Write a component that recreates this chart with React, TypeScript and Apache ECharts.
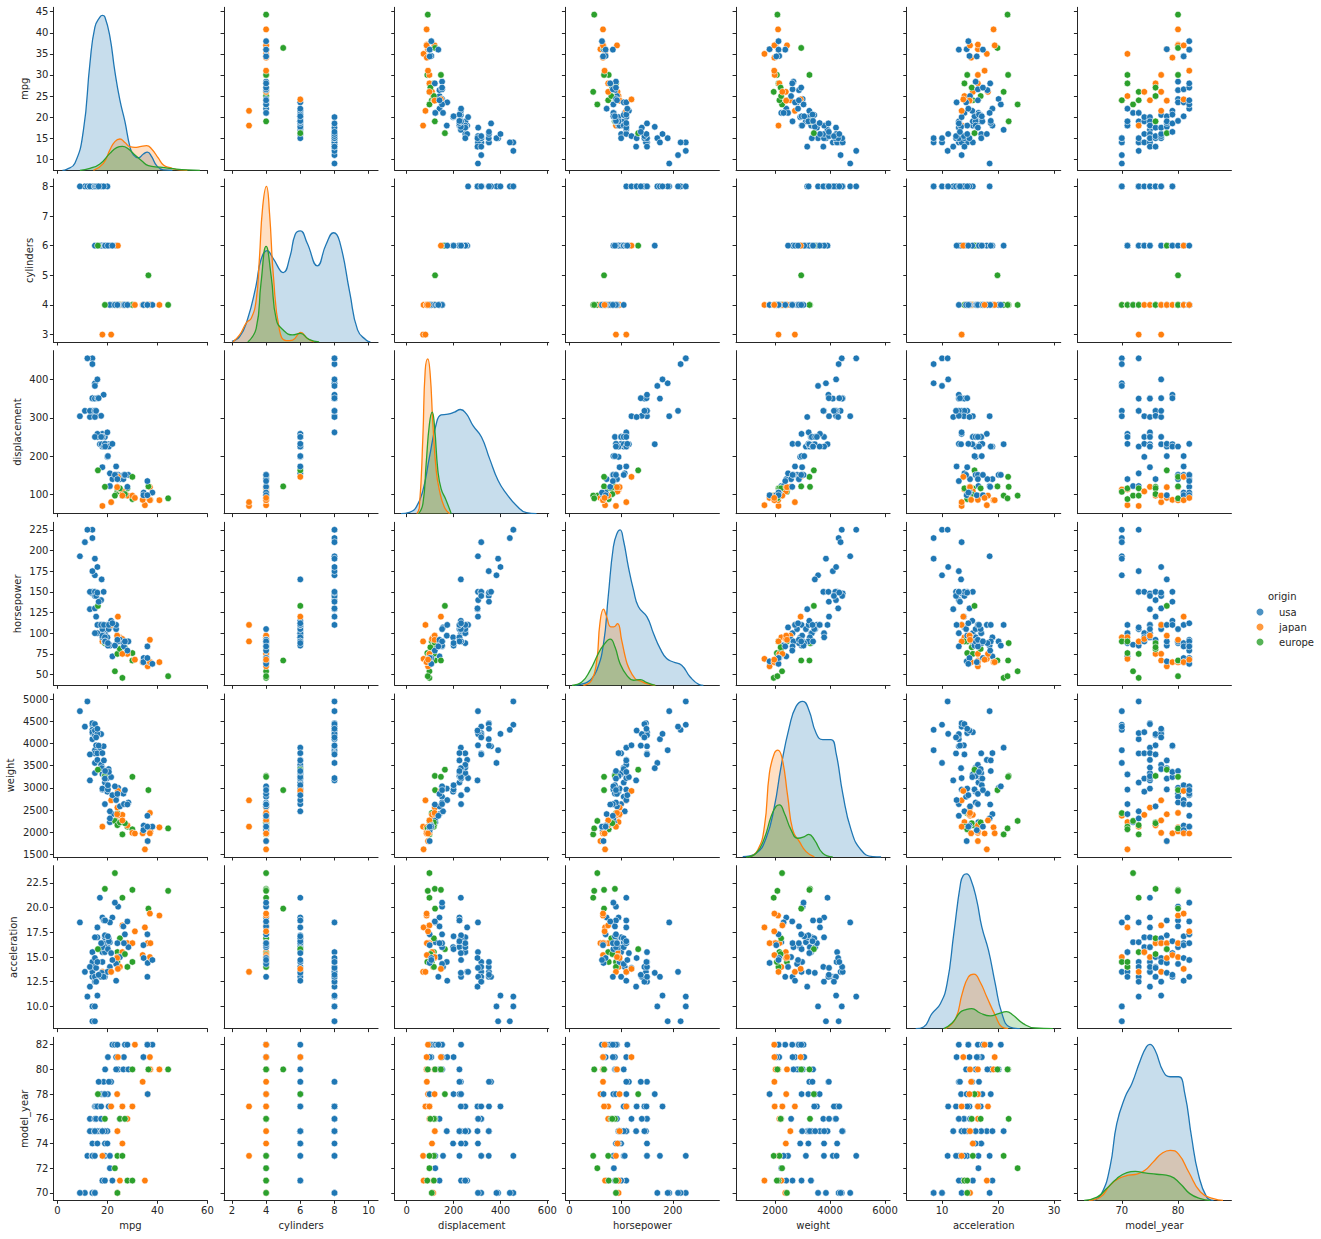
import React, { useEffect, useRef } from "react";
import * as echarts from "echarts";

// columns: mpg, cylinders, displacement, horsepower, weight, acceleration, origin index
const cars70 = [[14,8,455,225,4425,10,0],[14,8,440,215,4312,8.5,0],[11,8,318,210,4382,13.5,0],[9,8,304,193,4732,18.5,0],[15,8,390,190,3850,8.5,0],[15,8,383,170,3563,10,0],[24,4,113,95,2372,15,1],[24,4,107,90,2430,14.5,2]];
const cars71 = [[18,6,258,110,2962,13.5,0],[19,6,232,100,2634,13,0],[18,6,250,100,3313,15.5,0],[19,6,250,88,3302,15.5,0],[22,4,140,72,2408,19,0],[25,4,113,95,2228,14,1],[35,4,72,69,1613,18,1],[28,4,116,90,2123,14,2],[30,4,88,76,2065,14.5,2]];
const cars72 = [[21,4,122,86,2226,16.5,0],[23,4,97,54,2254,23.5,2]];
const cars73 = [[12,8,455,225,4951,11,0],[14,8,350,175,4100,13,0],[14,8,318,150,4237,14.5,0],[15,8,318,150,3777,12.5,0],[19,6,225,105,3121,16.5,0],[21,6,155,107,2472,14,0],[21,4,122,85,2310,18.5,0],[18,3,70,90,2124,13.5,1],[24,4,116,75,2158,15.5,2],[26,4,97,46,1950,21,2]];
const cars74 = [[14,8,304,150,4257,15.5,0],[16,6,250,100,3781,17,0],[19,6,232,90,3211,17,0],[20,6,198,95,2914,16,0],[26,4,108,93,2391,15.5,1]];
const cars75 = [[14,8,351,148,4460,13.5,0],[13,8,302,129,3169,12,0],[17,6,231,110,3907,21,0],[16,6,258,110,3632,18,0],[18,6,225,95,3785,19,0],[20,8,262,110,3221,13.5,0],[18,6,171,97,2984,14.5,0],[15,8,350,145,4440,14,0],[15,6,250,100,3336,17,0],[19,6,225,95,3264,16,0],[18,6,250,105,3459,16,0],[24,4,120,97,2555,15,1]];
const cars76 = [[13,8,318,150,3755,14,0],[15,8,318,150,4190,13,0],[15.5,8,304,120,3962,13.9,0],[17.5,8,305,140,4215,13,0],[25,4,140,92,2583,15,0],[28,4,97,75,2155,16.4,1],[19,4,120,88,3270,21.9,2],[25,4,116,81,2220,16.9,2],[27,4,101,83,2202,15.3,2]];
const cars77 = [[15,8,302,130,4295,14.9,0],[16,8,400,180,4220,11.1,0],[15.5,8,318,145,4140,12.5,0],[16,8,351,149,4335,14.5,0],[17.5,6,250,110,3520,16.4,0],[20.5,6,231,105,3425,16.9,0],[21.5,3,80,110,2720,13.5,1],[26,4,97,75,2265,18.2,1],[30,4,97,67,1985,16.4,1]];
const cars78 = [[17.7,6,231,165,3445,13.4,0],[20.2,6,200,85,2965,15.8,0],[18.6,6,225,110,3620,18.7,0],[19,6,232,90,3210,17.2,0],[36.1,4,91,60,1800,16.4,1],[36.1,4,98,66,1800,14.4,0],[16.2,6,163,133,3410,15.8,2],[23.9,4,119,97,2405,14.9,1]];
const cars79 = [[18.5,8,360,150,3940,13,0],[16.5,8,351,138,3955,13.2,0],[21.5,6,231,115,3245,15.4,0],[20.6,6,225,110,3360,16.6,0],[34.1,4,86,65,1975,15.2,1]];
const cars80 = [[19.1,6,225,90,3381,18.7,0],[24.3,4,151,90,3003,20.1,0],[26.4,4,140,88,2870,18.1,0],[23.5,4,151,105,2800,14.3,0],[28.4,4,151,90,2670,16,0],[37.2,4,86,65,2019,16.4,1],[40.8,4,85,65,2110,19.2,1],[37,4,119,92,2434,15,1],[36.4,5,121,67,2950,19.9,2],[30,4,146,67,3250,21.8,2],[44.3,4,90,48,2085,21.7,2]];
const cars81 = [[20.2,6,200,88,3060,17.1,0],[23.5,6,173,110,2725,12.6,0],[26.6,4,151,84,2635,16.4,0],[34.5,4,105,70,2150,14.9,0],[34.4,4,98,65,2045,16.2,0],[24.2,6,146,120,2930,13.8,1],[37,4,85,65,1975,19.4,1]];
const cars82 = [[22,6,232,112,2835,14.7,0],[23,4,151,85,3035,20.5,0],[24,4,140,92,2865,16.4,0],[27,4,151,90,2950,17.3,0],[28,4,120,79,2625,18.6,0],[36,4,135,84,2370,13,0],[38,4,105,63,2125,14.7,0],[36,4,98,70,2125,17.3,0],[31,4,91,68,1970,17.6,1]];
const carsByYear = [cars70,cars71,cars72,cars73,cars74,cars75,cars76,cars77,cars78,cars79,cars80,cars81,cars82];
const modelYears = [70,71,72,73,74,75,76,77,78,79,80,81,82];

const variables = ["mpg","cylinders","displacement","horsepower","weight","acceleration","model_year"];
const origins = ["usa","japan","europe"];

const xRanges = [[-1.6,60],[1.54,10.55],[-51,606],[-7.7,290],[582,6182],[3.7,31.2],[62.1,89.5]];
const yRanges = [[7.39,46.04],[2.75,8.25],[50,475],[37,234],[1440,5120],[7.75,24.25],[69.4,82.6]];
const xTicks = [[0,20,40,60],[2,4,6,8,10],[0,200,400,600],[0,100,200],[2000,4000,6000],[10,20,30],[70,80]];
const yTicks = [[10,15,20,25,30,35,40,45],[3,4,5,6,7,8],[100,200,300,400],[50,75,100,125,150,175,200,225],[1500,2000,2500,3000,3500,4000,4500,5000],[10,12.5,15,17.5,20,22.5],[70,72,74,76,78,80,82]];

// density curves: [x value, height as % of panel]
const kdeMpg = [
  [[2,0],[3.7,.6],[7,4.3],[10.4,24.5],[13,65.4],[15,87.9],[17,94],[18,95],[19,94],[21,82],[23,60.5],[25,43],[27,30],[29,14.5],[30.4,9.4],[32.4,7.7],[34.4,10],[36,11.2],[37.7,8.4],[39.7,2.9],[42.4,.2],[46,0]],
  [[14.4,0],[18.4,4.3],[21,12.5],[23,17.6],[25,19.2],[27,17],[29,14.5],[31,14.1],[33,14.5],[35.7,15.1],[37.7,13.1],[40.4,7.4],[42.4,3.3],[45,1.6],[49,.2],[52,0]],
  [[9,0],[13,1.2],[17,3.9],[21,10.4],[23.7,13.9],[26,14.7],[28.4,13.1],[31,9.4],[33.7,5.9],[36.4,2.9],[41,1.9],[45,1.2],[52,.2],[57,0]],
];
const kdeCylinders = [
  [[2,.4],[2.45,3.3],[2.9,13.5],[3.4,34],[3.7,50.4],[4.06,56],[4.4,51.5],[5,42.6],[5.4,52.5],[5.7,66],[6,68.1],[6.4,60.7],[7,46.7],[7.5,59.6],[7.95,67],[8.3,61.7],[8.9,30],[9.35,7.4],[9.85,1.2],[10.1,0]],
  [[2.05,0],[2.45,4.3],[2.85,11.9],[3.13,14.5],[3.42,25.8],[3.6,50],[3.8,83],[4.02,95.5],[4.2,79],[4.43,40],[4.78,7.4],[5.17,.8],[5.55,1.2],[6.03,5.9],[6.4,2.3],[6.8,0]],
  [[2.93,0],[3.42,8.4],[3.7,36],[4,58.6],[4.3,40],[4.6,13.5],[5,7.4],[5.55,4.3],[6,5.3],[6.5,1.6],[7.1,0]],
];
const kdeDisplacement = [
  [[-24,0],[11,.8],[40,3.9],[69,14.1],[97,34.6],[126,55],[147,60.6],[176,61],[204,62.3],[229,63.9],[254,61.3],[283,54],[319,47],[354,33.6],[390,20.3],[426,12.1],[469,4.9],[511,.6],[554,0]],
  [[43,0],[54,3.9],[69,47],[79,88],[90,95],[100,86],[111,57],[126,26.4],[140,14.1],[161,3.9],[183,0]],
  [[51,0],[69,5.9],[83,30.5],[97,55],[109,62.3],[119,53],[133,26.4],[147,15.2],[166,9],[190,0]],
];
const kdeHorsepower = [
  [[11,0],[27,1],[40,3.1],[53,9.2],[66,25.6],[75,54.3],[85,85],[92,93.2],[98,95.3],[104.5,89],[114,72.7],[124,58.4],[133.5,48.2],[150,42],[162.6,31.8],[175.5,22.5],[188,16.4],[201,14.3],[217,12.3],[233.5,5.1],[250,.6],[259,0]],
  [[27,0],[43,3.1],[53,15.4],[59,38],[66,46.7],[72,42],[80,35.9],[86,35.9],[93,37.9],[101,27.7],[108,17.4],[114,11.3],[127,4.1],[137,2.7],[150,1],[166,0]],
  [[5,0],[24,2],[40,9.2],[56,19.5],[66,24.6],[79,28.3],[88,23.6],[98,13.3],[111,6.1],[124,3.1],[137,3.5],[150,1.6],[166,0]],
];
const kdeWeight = [
  [[824,.2],[1309,2.3],[1673,11.5],[1976,31],[2218,55.5],[2521,80],[2764,92.4],[3006,95.5],[3224,90.4],[3491,76],[3733,72],[4036,72],[4218,63.7],[4460,39],[4764,16.6],[5127,4.3],[5552,.2],[5855,0]],
  [[1067,0],[1370,4.3],[1612,18.6],[1794,51.4],[1976,63.7],[2097,65.6],[2255,60.7],[2461,37],[2642,16.6],[2885,9.4],[3127,3.3],[3430,0]],
  [[945,0],[1309,2.3],[1612,11.5],[1855,24.8],[2036,31],[2158,32],[2339,26.8],[2582,16.6],[2824,11.5],[3067,12.5],[3224,13.9],[3430,10.5],[3733,2.3],[4097,0]],
];
const kdeAcceleration = [
  [[5.3,0],[6.7,1],[8.2,9.2],[9.7,15.3],[10.9,27.6],[12.1,58.3],[13.3,89],[13.8,94],[14.4,95],[15.1,92],[16.2,78.7],[17.1,62.4],[18.3,48],[19.5,27.6],[20.7,9.2],[22.1,1],[23.9,0]],
  [[10.6,0],[12.4,6.1],[13.6,21.5],[14.7,31.7],[15.7,33.5],[16.8,28.6],[18,19.4],[19.5,8.2],[20.7,1],[21.8,0]],
  [[10.3,0],[11.8,3.5],[13.3,10.2],[14.3,11.7],[15.3,12.3],[16.8,9.6],[18.6,7.8],[20.1,9.2],[21.5,10.4],[22.7,8.2],[24.5,3.1],[26.6,.4],[29.8,0]],
];
const kdeModelYear = [
  [[65,0],[66.4,4.1],[67.9,20.5],[69.1,47],[70.6,63.5],[71.8,71.7],[73.3,86],[74.4,94.3],[75,95.7],[75.9,92.2],[77.4,78.9],[78.6,75.8],[80.1,75.8],[81.2,65.6],[82.4,39],[83.6,16.4],[85.1,2],[86.3,0]],
  [[64.1,0],[66.2,2],[67.9,9.2],[69.4,13.3],[71.2,15.4],[72.7,16],[74.1,18.4],[75.6,23.6],[77.1,28.7],[78.6,30.7],[80.1,28.3],[81.9,17.4],[84,5.1],[86.3,1],[88,0]],
  [[63.3,0],[65.6,2],[67.3,7.2],[69.1,13.3],[70.9,17],[72.4,17.8],[74.1,16.8],[76.2,16],[78.6,14.8],[80.4,10.2],[82.1,4.1],[84,1],[85.7,0]],
];
const kdes = [kdeMpg,kdeCylinders,kdeDisplacement,kdeHorsepower,kdeWeight,kdeAcceleration,kdeModelYear];

const COLORS = ["#1f77b4","#ff7f0e","#2ca02c"];
const INK = "#262626";
const FONT = "DejaVu Sans";
const LEFT0 = 53.4, STEP_X = 170.67, PANEL_W = 154;
const TOP0 = 7.3, STEP_Y = 171.67, PANEL_H = 163;
const Y_NAME_GAP = [24,18.5,31,31,37.5,35,24];

function buildOption() {
  const rows: number[][] = [];
  carsByYear.forEach((list, i) => list.forEach((c) => rows.push([c[0],c[1],c[2],c[3],c[4],c[5],modelYears[i],c[6]])));

  const grid: any[] = [], xAxis: any[] = [], yAxis: any[] = [], series: any[] = [];
  const line = { show: true, onZero: false, lineStyle: { color: INK, width: 1 } };
  const tickStyle = { length: 3.5, inside: false, lineStyle: { color: INK, width: 1 } };
  for (let r = 0; r < 7; r++) {
    for (let c = 0; c < 7; c++) {
      const idx = r * 7 + c;
      grid.push({ left: LEFT0 + c * STEP_X, top: TOP0 + r * STEP_Y, width: PANEL_W, height: PANEL_H, containLabel: false });
      xAxis.push({
        type: "value", gridIndex: idx, min: xRanges[c][0], max: xRanges[c][1], splitLine: { show: false },
        axisLine: line, axisTick: { ...tickStyle, show: true, customValues: xTicks[c] },
        axisLabel: {
          show: r === 6, customValues: xTicks[c], color: INK, fontSize: 10, fontFamily: FONT, margin: 5,
          formatter: (v: number) => String(v),
        },
        name: r === 6 ? variables[c] : "", nameLocation: "middle", nameGap: 20,
        nameTextStyle: { color: INK, fontSize: 10, fontFamily: FONT },
      });
      yAxis.push({
        type: "value", gridIndex: idx, min: yRanges[r][0], max: yRanges[r][1], splitLine: { show: false },
        axisLine: line, axisTick: { ...tickStyle, show: true, customValues: yTicks[r] },
        axisLabel: {
          show: c === 0, customValues: yTicks[r], color: INK, fontSize: 10, fontFamily: FONT, margin: 5,
          formatter: (v: number) => (r === 5 ? v.toFixed(1) : String(v)),
        },
        name: c === 0 ? variables[r] : "", nameLocation: "middle", nameGap: Y_NAME_GAP[r],
        nameTextStyle: { color: INK, fontSize: 10, fontFamily: FONT },
      });
    }
  }
  for (let i = 0; i < 7; i++) {
    const densityAxis = yAxis.length;
    yAxis.push({ type: "value", gridIndex: i * 8, min: 0, max: 100, show: false, splitLine: { show: false } });
    kdes[i].forEach((curve, o) => {
      series.push({
        type: "line", name: variables[i] + " " + origins[o], xAxisIndex: i * 8, yAxisIndex: densityAxis,
        data: curve, smooth: 0.5, showSymbol: false, silent: true,
        lineStyle: { color: COLORS[o], width: 1.3 }, itemStyle: { color: COLORS[o] },
        areaStyle: { color: COLORS[o], opacity: 0.25 },
      });
    });
  }
  for (let r = 0; r < 7; r++) {
    for (let c = 0; c < 7; c++) {
      if (r === c) continue;
      const idx = r * 7 + c;
      series.push({
        type: "scatter", name: variables[c] + " / " + variables[r], xAxisIndex: idx, yAxisIndex: idx,
        data: rows.map((row) => [row[c], row[r], row[7]]), symbolSize: 6.6, clip: false, silent: true,
        itemStyle: {
          color: (p: any) => COLORS[p.data[2]], borderColor: "#ffffff", borderWidth: 0.6, opacity: 1,
        },
      });
    }
  }
  origins.forEach((name, o) => {
    series.push({ type: "scatter", name, xAxisIndex: 0, yAxisIndex: 0, data: [], itemStyle: { color: COLORS[o] } });
  });
  return {
    animation: false, backgroundColor: "#ffffff", textStyle: { fontFamily: FONT, color: INK },
    grid, xAxis, yAxis, series,
    legend: {
      data: origins, orient: "vertical", left: 1256.5, top: 606, padding: 0, itemWidth: 28, itemHeight: 7,
      itemGap: 3, icon: "circle", selectedMode: false,
      textStyle: { fontFamily: FONT, fontSize: 10, color: INK, padding: [0,0,0,0], lineHeight: 12 },
    },
    graphic: [{ type: "text", left: 1268, top: 591, style: { text: "origin", fontFamily: FONT, fontSize: 10, fill: INK } }],
  };
}

export default function App() {
  const ref = useRef<HTMLDivElement>(null);
  useEffect(() => {
    const chart = echarts.init(ref.current!, undefined, { renderer: "svg" });
    chart.setOption(buildOption() as any);
    return () => chart.dispose();
  }, []);
  return <div ref={ref} style={{ position: "absolute", left: 0, top: 0, width: 1321, height: 1239 }} />;
}
